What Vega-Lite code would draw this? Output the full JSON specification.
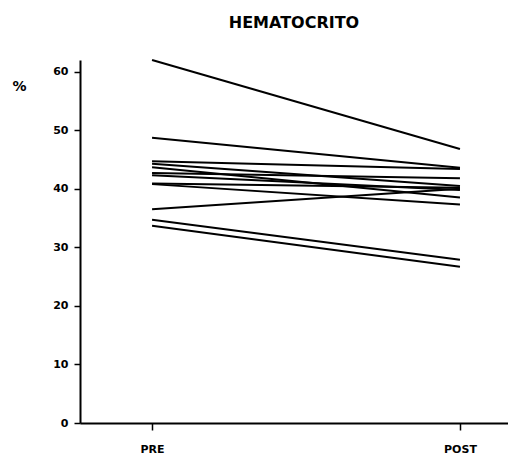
{
  "$schema": "https://vega.github.io/schema/vega-lite/v6.json",
  "width": 428,
  "height": 363,
  "autosize": {"type": "none"},
  "padding": {"left": 80, "top": 60, "right": 0, "bottom": 37},
  "background": "white",
  "title": {
    "text": "HEMATOCRITO",
    "font": "DejaVu Sans",
    "fontSize": 16,
    "fontWeight": "bold",
    "color": "black",
    "anchor": "middle",
    "offset": 25
  },
  "config": {
    "view": {"stroke": null},
    "axis": {"grid": false, "domainColor": "black", "tickColor": "black", "labelColor": "black", "titleColor": "black", "labelFont": "DejaVu Sans", "titleFont": "DejaVu Sans", "labelFontWeight": "bold", "domainWidth": 2, "tickWidth": 1.5}
  },
  "data": {
    "values": [
      {"id": 1, "t": 0, "v": 62.0}, {"id": 1, "t": 1, "v": 46.8},
      {"id": 2, "t": 0, "v": 48.7}, {"id": 2, "t": 1, "v": 43.6},
      {"id": 3, "t": 0, "v": 44.7}, {"id": 3, "t": 1, "v": 43.4},
      {"id": 4, "t": 0, "v": 44.3}, {"id": 4, "t": 1, "v": 40.5},
      {"id": 5, "t": 0, "v": 43.7}, {"id": 5, "t": 1, "v": 38.5},
      {"id": 6, "t": 0, "v": 42.7}, {"id": 6, "t": 1, "v": 41.8},
      {"id": 7, "t": 0, "v": 42.3}, {"id": 7, "t": 1, "v": 39.8},
      {"id": 8, "t": 0, "v": 40.9}, {"id": 8, "t": 1, "v": 40.2},
      {"id": 9, "t": 0, "v": 40.8}, {"id": 9, "t": 1, "v": 37.3},
      {"id": 10, "t": 0, "v": 36.5}, {"id": 10, "t": 1, "v": 40.0},
      {"id": 11, "t": 0, "v": 34.7}, {"id": 11, "t": 1, "v": 27.9},
      {"id": 12, "t": 0, "v": 33.7}, {"id": 12, "t": 1, "v": 26.7}
    ]
  },
  "mark": {"type": "line", "color": "black", "strokeWidth": 2},
  "encoding": {
    "detail": {"field": "id", "type": "nominal"},
    "x": {
      "field": "t",
      "type": "quantitative",
      "scale": {"domain": [-0.234, 1.156], "nice": false, "zero": false},
      "axis": {
        "values": [0, 1],
        "labelExpr": "datum.value == 0 ? 'PRE' : 'POST'",
        "title": null,
        "labelFontSize": 11,
        "tickSize": 7,
        "labelPadding": 13
      }
    },
    "y": {
      "field": "v",
      "type": "quantitative",
      "scale": {"domain": [0, 62], "nice": false},
      "axis": {
        "values": [0, 10, 20, 30, 40, 50, 60],
        "labelFontSize": 11,
        "tickSize": 6,
        "labelPadding": 6,
        "title": "%",
        "titleAngle": 0,
        "titleAlign": "left",
        "titleBaseline": "middle",
        "titleX": -68,
        "titleY": 26,
        "titleFontSize": 14,
        "titleFontWeight": "bold"
      }
    }
  }
}
